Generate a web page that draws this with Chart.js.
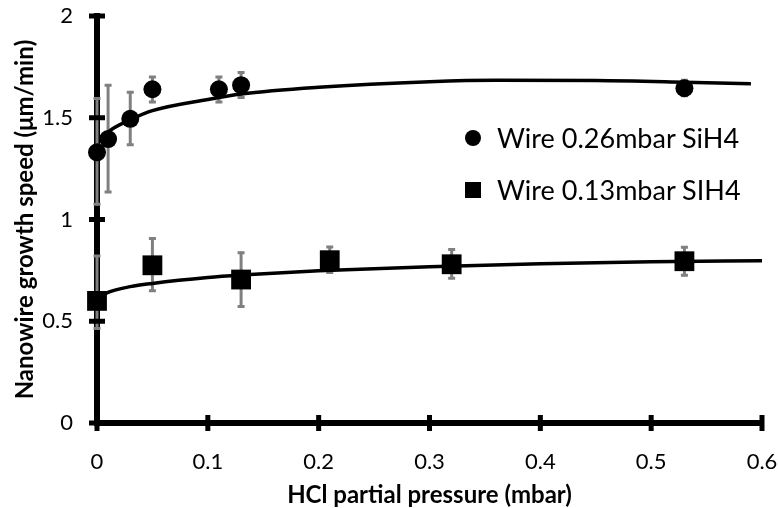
<!DOCTYPE html>
<html><head><meta charset="utf-8">
<script src="https://cdn.jsdelivr.net/npm/chart.js@4.4.0/dist/chart.umd.min.js"></script>
<style>
html,body{margin:0;padding:0;background:#fff;}
#wrap{position:relative;width:778px;height:508px;overflow:hidden;}
canvas{display:block;}
.lgtxt{position:absolute;font-family:Lato,sans-serif;font-size:27px;line-height:30px;color:#000;white-space:nowrap;}
.lgmk{position:absolute;background:#000;}
</style>
</head><body>
<div id="wrap"><canvas id="c" width="778" height="508"></canvas></div>
<script>
// ---- data ----
const seriesNames = ['Wire 0.26mbar SiH4', 'Wire 0.13mbar SIH4'];
const hiX = [0, 0.01, 0.03, 0.05, 0.11, 0.13, 0.53];
const hiY = [1.33, 1.395, 1.495, 1.64, 1.64, 1.66, 1.645];
const hiErrPlus  = [0.27, 0.27, 0.135, 0.065, 0.065, 0.067, 0.044];
const hiErrMinus = [0.26, 0.265, 0.132, 0.068, 0.068, 0.065, 0.042];
const loX = [0, 0.05, 0.13, 0.21, 0.32, 0.53];
const loY = [0.60, 0.775, 0.705, 0.80, 0.78, 0.795];
const loErrPlus  = [0.225, 0.137, 0.137, 0.07, 0.077, 0.074];
const loErrMinus = [0.14, 0.13, 0.137, 0.065, 0.073, 0.074];
const hiTrendX = [0.003, 0.01, 0.03, 0.05, 0.1, 0.13, 0.2, 0.3, 0.36, 0.45, 0.53, 0.59];
const hiTrendY = [1.39, 1.43, 1.49, 1.535, 1.59, 1.617, 1.65, 1.677, 1.684, 1.683, 1.675, 1.667];
const loTrendX = [0.003, 0.01, 0.03, 0.05, 0.1, 0.13, 0.2, 0.3, 0.4, 0.5, 0.6];
const loTrendY = [0.62, 0.642, 0.67, 0.686, 0.715, 0.727, 0.748, 0.768, 0.782, 0.792, 0.797];
const xTicks = [0, 0.1, 0.2, 0.3, 0.4, 0.5, 0.6];
const yTicks = [0, 0.5, 1, 1.5, 2];
const xTitle = 'HCl partial pressure (mbar)';
const yTitle = 'Nanowire growth speed (\u03bcm/min)';

const toPts = (xs, ys) => xs.map((v, i) => ({x: v, y: ys[i]}));

const errTickPlugin = {
  id: 'errTicks',
  beforeDatasetsDraw(chart) {
    const {ctx, chartArea} = chart;
    const xs = chart.scales.x, ys = chart.scales.y;
    ctx.save();
    ctx.strokeStyle = '#808080';
    ctx.lineWidth = 3;
    ctx.lineCap = 'butt';
    const bars = (X, Y, up, dn) => {
      X.forEach((xv, i) => {
        const px = xs.getPixelForValue(xv);
        const pt = ys.getPixelForValue(Y[i] + up[i]);
        const pb = ys.getPixelForValue(Y[i] - dn[i]);
        ctx.beginPath();
        ctx.moveTo(px, pt); ctx.lineTo(px, pb);
        ctx.stroke();
        ctx.beginPath();
        ctx.moveTo(px - 3.5, pt + 1); ctx.lineTo(px + 3.5, pt + 1);
        ctx.moveTo(px - 3.5, pb - 1); ctx.lineTo(px + 3.5, pb - 1);
        ctx.stroke();
      });
    };
    bars(hiX, hiY, hiErrPlus, hiErrMinus);
    bars(loX, loY, loErrPlus, loErrMinus);
    // axis tick marks crossing the axes
    ctx.strokeStyle = '#000';
    ctx.lineWidth = 5;
    ctx.beginPath();
    xTicks.forEach(v => {
      const px = xs.getPixelForValue(v);
      ctx.moveTo(px, chartArea.bottom - 8); ctx.lineTo(px, chartArea.bottom + 8);
    });
    yTicks.forEach(v => {
      const py = ys.getPixelForValue(v);
      ctx.moveTo(chartArea.left - 8, py); ctx.lineTo(chartArea.left + 8, py);
    });
    ctx.stroke();
    ctx.restore();
  }
};

const tickFont = {family: 'Lato', size: 22};
const titleFont = {family: 'Lato', size: 24, weight: 'bold', lineHeight: 1.1};

new Chart(document.getElementById('c'), {
  type: 'scatter',
  data: {
    datasets: [
      {label: seriesNames[0], data: toPts(hiX, hiY), pointStyle: 'circle', pointRadius: 9,
       backgroundColor: '#000', borderColor: '#000', borderWidth: 0, clip: false},
      {label: seriesNames[1], data: toPts(loX, loY), pointStyle: 'rect', pointRadius: 14,
       backgroundColor: '#000', borderColor: '#000', borderWidth: 0, clip: false},
      {label: 'trend1', data: toPts(hiTrendX, hiTrendY), showLine: true, pointRadius: 0,
       borderColor: '#000', borderWidth: 3.5, cubicInterpolationMode: 'monotone', clip: false},
      {label: 'trend2', data: toPts(loTrendX, loTrendY), showLine: true, pointRadius: 0,
       borderColor: '#000', borderWidth: 3.5, cubicInterpolationMode: 'monotone', clip: false}
    ]
  },
  options: {
    responsive: false,
    animation: false,
    devicePixelRatio: 1,
    layout: {padding: {left: 12, right: 16, top: 16, bottom: 0}},
    plugins: {legend: {display: false}, tooltip: {enabled: false}},
    scales: {
      x: {
        type: 'linear', min: 0, max: 0.6,
        afterBuildTicks: s => { s.ticks = xTicks.map(v => ({value: v})); },
        ticks: {font: tickFont, color: '#000', padding: 26, maxRotation: 0, autoSkip: false,
                callback: v => String(v)},
        grid: {display: false, drawTicks: false},
        border: {display: true, color: '#000', width: 6},
        title: {display: true, text: xTitle, font: titleFont, color: '#000', padding: {top: 0, bottom: 0}},
        afterFit: s => { s.height = 85; s.paddingLeft = 0; s.paddingRight = 0; }
      },
      y: {
        type: 'linear', min: 0, max: 2,
        afterBuildTicks: s => { s.ticks = yTicks.map(v => ({value: v})); },
        ticks: {font: tickFont, color: '#000', padding: 24, autoSkip: false,
                callback: v => String(v)},
        grid: {display: false, drawTicks: false},
        border: {display: true, color: '#000', width: 6},
        title: {display: true, text: yTitle, font: titleFont, color: '#000', padding: {top: 0, bottom: 0}},
        afterFit: s => { s.width = 85; s.paddingTop = 0; s.paddingBottom = 0; }
      }
    }
  },
  plugins: [errTickPlugin]
});

// legend (HTML text)
const wrap = document.getElementById('wrap');
const legendRows = [{name: seriesNames[0], shape: 'circle', cy: 138}, {name: seriesNames[1], shape: 'rect', cy: 190}];
legendRows.forEach(r => {
  const mk = document.createElement('div');
  mk.className = 'lgmk';
  mk.style.left = '465px'; mk.style.top = (r.cy - 8) + 'px';
  mk.style.width = '16px'; mk.style.height = '16px';
  if (r.shape === 'circle') mk.style.borderRadius = '50%';
  wrap.appendChild(mk);
  const t = document.createElement('div');
  t.className = 'lgtxt';
  t.style.left = '497px'; t.style.top = (r.cy - 15) + 'px';
  t.textContent = r.name;
  wrap.appendChild(t);
});
</script>
</body></html>
